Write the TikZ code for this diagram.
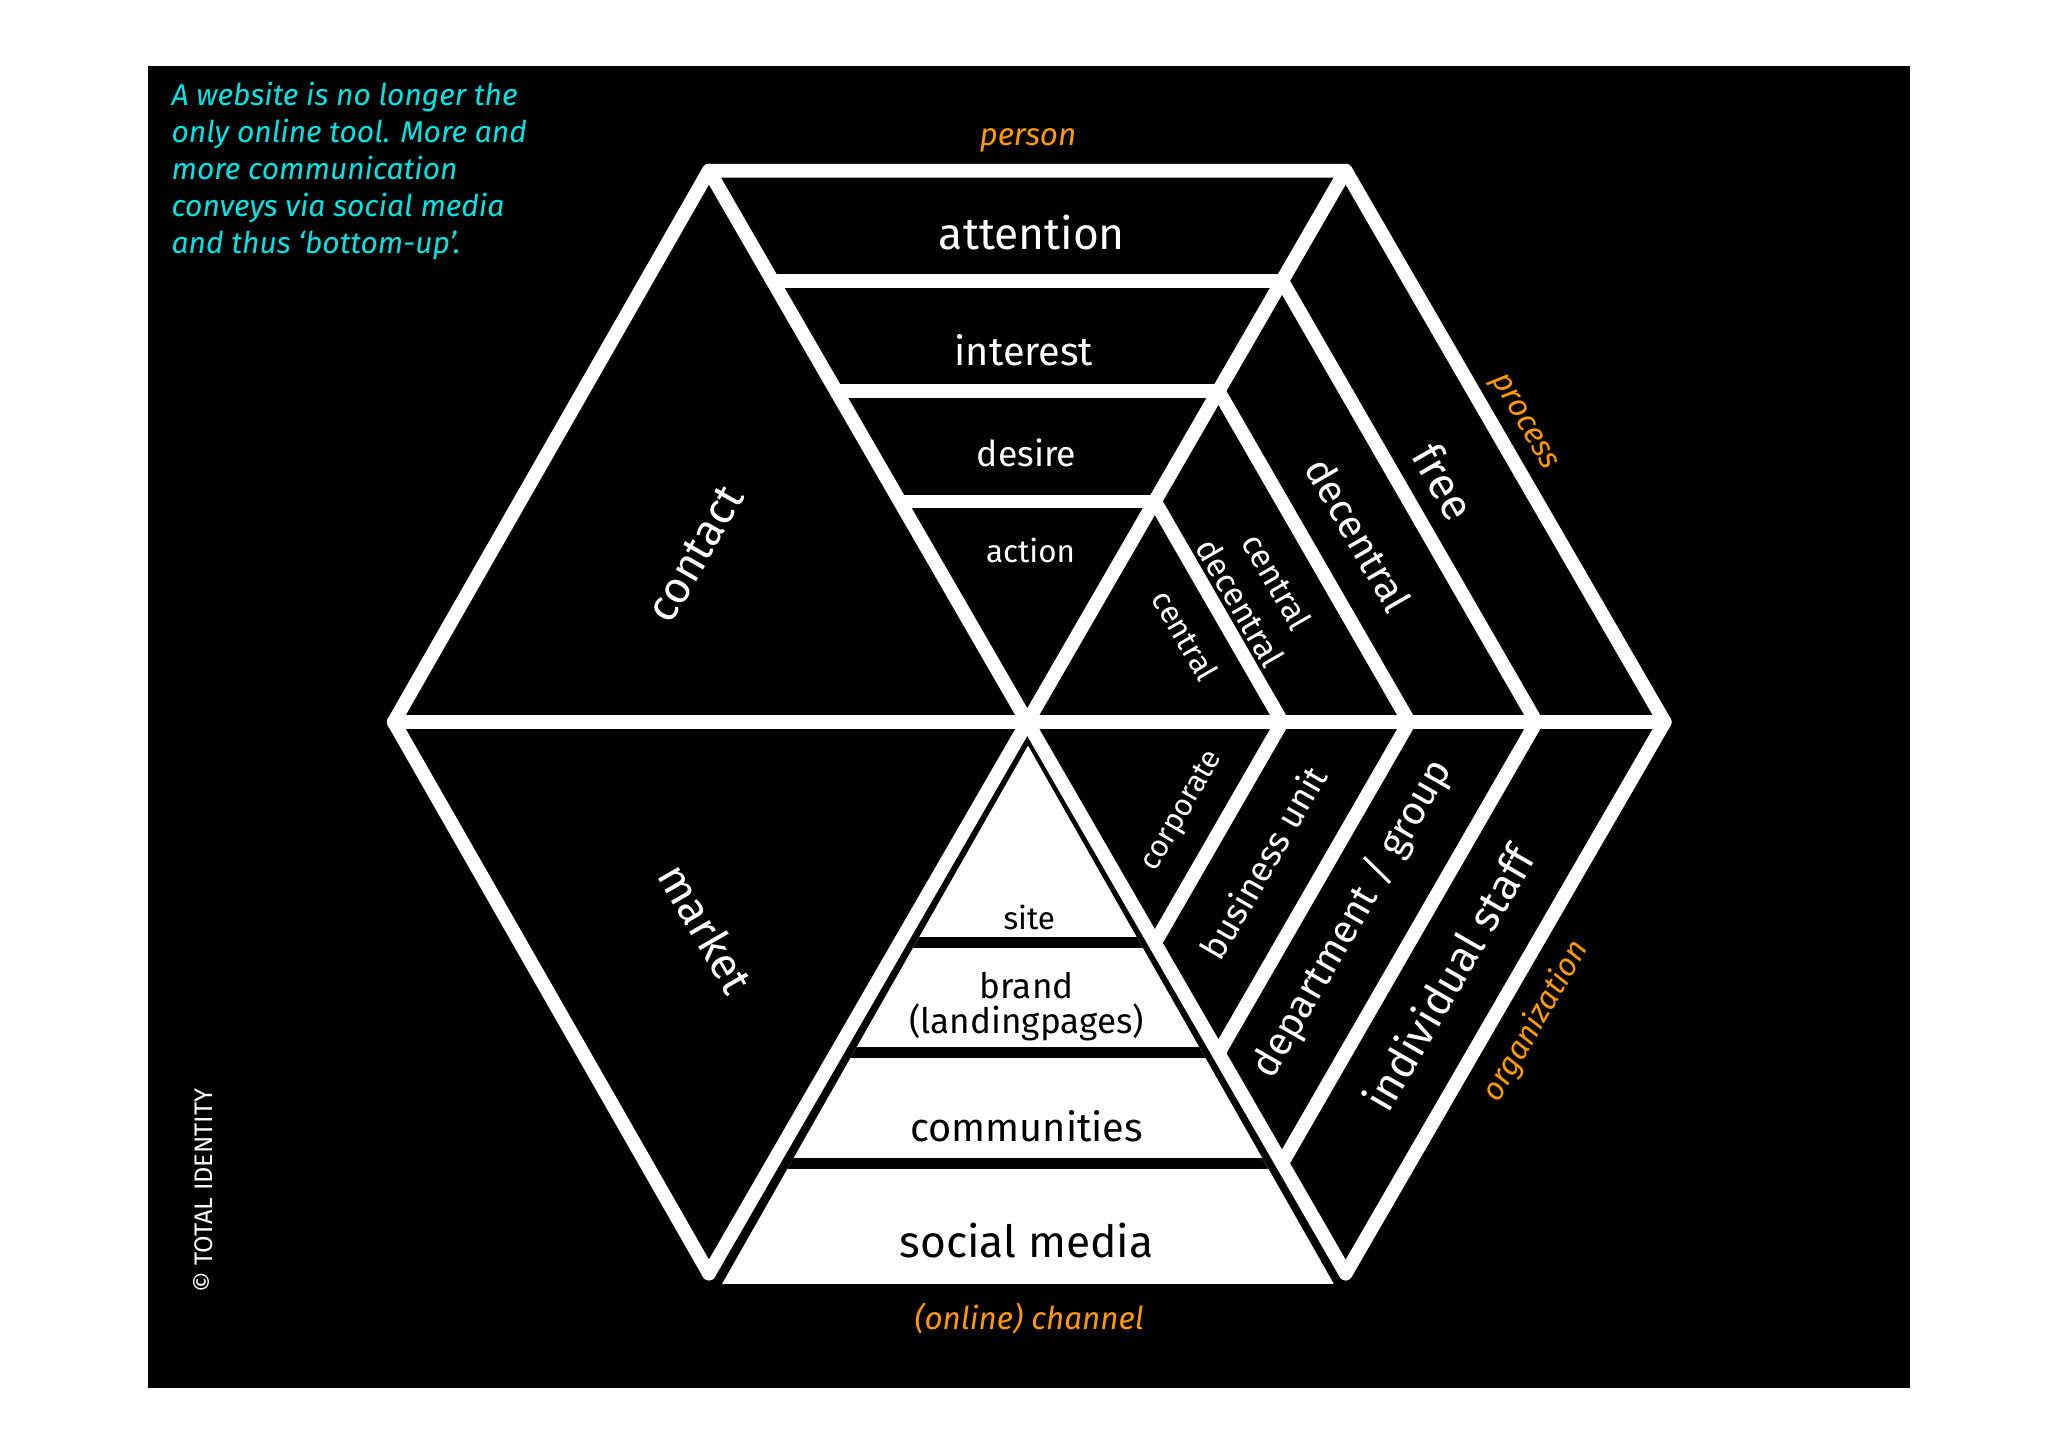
\documentclass[tikz,border=0pt]{standalone}
\usepackage{fontspec}
\setmainfont{Fira Sans}
\begin{document}
\begin{tikzpicture}[x=0.01cm,y=-0.01cm,
  wl/.style={white,line width=3pt,line cap=round,line join=round},
  bl/.style={black,line width=2.4pt},
  lab/.style={white,inner sep=0pt},
  blab/.style={black,inner sep=0pt},
  org/.style={text={rgb,255:red,255;green,153;blue,0},font=\itshape\fontsize{6.8}{8}\selectfont,inner sep=0pt}]
\useasboundingbox (0,0) rectangle (1560,1102);
\fill[white] (0,0) rectangle (1560,1102);
\fill[black] (113,50) rectangle (1455,1057);
% hexagon
\draw[wl] (300,550) -- (540,130) -- (1025,130) -- (1268,550) -- (1025,970);
\draw[wl] (300,550) -- (540,970);
\draw[wl] (300,550) -- (1268,550);
\draw[wl] (540,130) -- (1025,970);
\draw[wl] (1025,130) -- (540,970);
% bands
\foreach \f in {0.4,0.6,0.8}{
  \draw[wl] (783-242*\f,550-420*\f) -- (783+242*\f,550-420*\f);
  \draw[wl] (783+242*\f,550-420*\f) -- (783+484*\f,550) -- (783+242*\f,550+420*\f);
}
% bottom white triangle
\fill[white] (783,568) -- (1016,978) -- (550,978) -- cycle;
\begin{scope}
\clip (783,568) -- (1016,978) -- (550,978) -- cycle;
\foreach \f in {0.4,0.6,0.8}{
  \draw[bl] (500,550+420*\f) -- (1060,550+420*\f);
}
\end{scope}
% texts
\node[lab,font=\fontsize{9.6}{12}\selectfont] at (786,177) {attention};
\node[lab,font=\fontsize{8.6}{11}\selectfont] at (780,267) {interest};
\node[lab,font=\fontsize{7.7}{10}\selectfont] at (782,345) {desire};
\node[lab,font=\fontsize{6.8}{9}\selectfont] at (785,419) {action};
\node[lab,font=\fontsize{9.6}{12}\selectfont,rotate=60] at (530,422) {contact};
\node[lab,font=\fontsize{9.6}{12}\selectfont,rotate=-60] at (538,707) {market};
\node[lab,font=\fontsize{9.6}{12}\selectfont,rotate=-60] at (1100,367) {free};
\node[lab,font=\fontsize{8.6}{11}\selectfont,rotate=-60] at (1035,407) {decentral};
\node[lab,font=\fontsize{7.2}{9}\selectfont,rotate=-60] at (973,443) {central};
\node[lab,font=\fontsize{7.2}{9}\selectfont,rotate=-60] at (945,459) {decentral};
\node[lab,font=\fontsize{6.8}{8}\selectfont,rotate=-60] at (903,484) {central};
\node[lab,font=\fontsize{6.6}{8}\selectfont,rotate=60] at (901,618) {corporate};
\node[lab,font=\fontsize{7.7}{10}\selectfont,rotate=60] at (962,657) {business unit};
\node[lab,font=\fontsize{8.6}{11}\selectfont,rotate=60] at (1030,700) {department / group};
\node[lab,font=\fontsize{9.4}{12}\selectfont,rotate=60] at (1103,745) {individual staff};
\node[blab,font=\fontsize{6.8}{9}\selectfont] at (784,699) {site};
\node[blab,font=\fontsize{7.6}{9}\selectfont] at (782,751) {brand};
\node[blab,font=\fontsize{7.6}{9}\selectfont] at (782,779) {(landingpages)};
\node[blab,font=\fontsize{8.6}{11}\selectfont] at (782,858) {communities};
\node[blab,font=\fontsize{9.6}{12}\selectfont] at (782,945) {social media};
\node[org] at (783,107) {person};
\node[org,rotate=-60] at (1160,322) {process};
\node[org,rotate=60] at (1170,778) {organization};
\node[org] at (784,1004) {(online) channel};
\node[text={rgb,255:red,0;green,230;blue,230},font=\itshape\fontsize{6.5}{8}\selectfont,align=left,anchor=north west,inner sep=0pt] at (130,62)
 {A website is no longer the\\only online tool. More and\\more communication\\conveys via social media\\and thus ‘bottom-up’.};
\node[lab,font=\fontsize{5.5}{7}\selectfont,rotate=90] at (155,907) {© TOTAL IDENTITY};
\end{tikzpicture}
\end{document}
